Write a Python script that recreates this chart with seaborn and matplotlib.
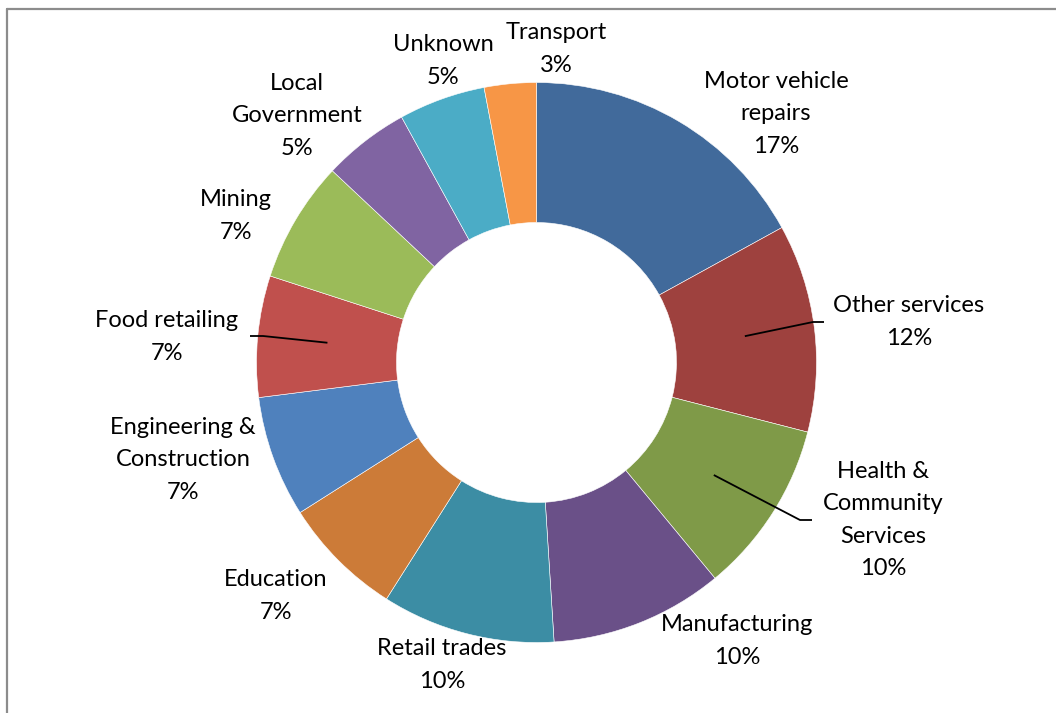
import numpy as np
import matplotlib
matplotlib.use("Agg")
import matplotlib.pyplot as plt
import seaborn as sns

# Share of respondents by industry sector (percent)
sectors = [
    "Motor vehicle\nrepairs", "Other services", "Health &\nCommunity\nServices",
    "Manufacturing", "Retail trades", "Education", "Engineering &\nConstruction",
    "Food retailing", "Mining", "Local\nGovernment", "Unknown", "Transport",
]
shares = [17, 12, 10, 10, 10, 7, 7, 7, 7, 5, 5, 3]
slice_colors = [
    "#416A9B", "#9E413E", "#7F9A48", "#6A5088", "#3C8DA4", "#CC7B38",
    "#4F81BD", "#C0504D", "#9BBB59", "#8064A2", "#4BACC6", "#F79646",
]

sns.set_theme(style="white")
plt.rcParams["font.family"] = ["Lato", "DejaVu Sans"]

W, H = 1056, 713
fig = plt.figure(figsize=(W / 100, H / 100), dpi=100)
ax = fig.add_axes([0, 0, 1, 1])

cx, cy = 536.5, H - 362.5
R = 280
palette = sns.color_palette(slice_colors)

wedges, _ = ax.pie(
    shares, colors=palette, startangle=90, counterclock=False,
    radius=R, center=(cx, cy),
    wedgeprops=dict(width=140, edgecolor="white", linewidth=0.4),
)

# label anchors (pixel positions, y measured from top)
label_pos = [
    (776, 114), (909, 322), (883, 520), (737, 641), (442, 665), (276, 596),
    (183, 460), (167, 337), (236, 216), (297, 116), (443, 61), (556, 49),
]
for name, val, (lx, ly) in zip(sectors, shares, label_pos):
    ax.text(lx, H - ly, f"{name}\n{val}%", ha="center", va="center",
            fontsize=17, color="black", linespacing=1.68)

# leader lines for labels that sit away from their slices
leaders = {1: [(813, 322), (824, 322)], 2: [(800, 520), (812, 520)],
           7: [(263, 336), (250, 336)]}
for idx, tail in leaders.items():
    w = wedges[idx]
    mid = np.deg2rad((w.theta1 + w.theta2) / 2)
    sx = cx + 0.75 * R * np.cos(mid)
    sy = cy + 0.75 * R * np.sin(mid)
    xs = [sx] + [p[0] for p in tail]
    ys = [sy] + [H - p[1] for p in tail]
    ax.plot(xs, ys, color="black", linewidth=1.3, solid_capstyle="butt")

# chart area border
ax.plot([7, 7], [-20, H - 9], color="#8C8C8C", linewidth=1.6)
ax.plot([7, W + 20], [H - 9, H - 9], color="#8C8C8C", linewidth=1.6)

ax.set_xlim(0, W)
ax.set_ylim(0, H)
ax.set_aspect("equal", adjustable="datalim")
ax.axis("off")

fig.savefig("out.png", dpi=100, facecolor="white")
